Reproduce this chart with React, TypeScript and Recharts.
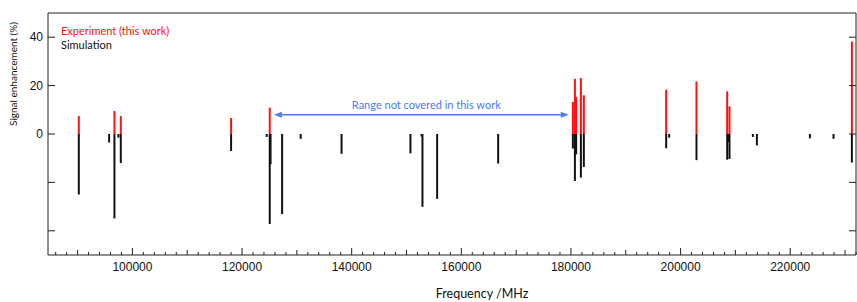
import { ComposedChart, XAxis, YAxis, ReferenceLine, Legend } from 'recharts';

// experiment (red sticks, positive)
const expFreq = [90220, 96720, 97880, 118000, 125050, 180350, 180720, 180950, 181810, 182350, 197370, 202900, 208500, 208920, 231250];
const expSignal = [7.4, 9.5, 7.4, 6.6, 10.9, 13.2, 22.8, 15.3, 23.1, 16.0, 18.3, 21.7, 17.6, 11.4, 38.2];

// simulation (black sticks, drawn downward)
const simFreq = [
  90220, 95750, 96720, 97450, 97880, 118000, 124500, 125050, 125200, 127310, 130700, 138150, 150720, 152750, 152910,
  155590, 166720, 180350, 180720, 180950, 181810, 182350, 197370, 197920, 202900, 208500, 208700, 208920, 213190,
  213920, 223590, 227900, 231250,
];
const simSignal = [
  -25.0, -3.5, -34.9, -1.5, -12.0, -7.0, -1.2, -37.2, -12.5, -33.1, -2.0, -8.2, -8.0, -1.0, -30.1,
  -26.8, -12.2, -6.0, -19.4, -8.4, -18.0, -13.6, -5.9, -1.5, -10.8, -10.6, -3.3, -10.3, -1.2,
  -4.7, -1.8, -2.0, -11.8,
];

const xMajor = [100000, 120000, 140000, 160000, 180000, 200000, 220000];
const yTicks = [-40, -20, 0, 20, 40];
const yLabelled = [0, 20, 40];
const gapStart = 125800;
const gapEnd = 179600;
const gapLevel = 8;

const xTicks: number[] = [];
for (let f = 86000; f <= 232000; f += 2000) xTicks.push(f);

const sticks = simFreq.map((f, i) => ({ freq: f, sim: simSignal[i] }));

const AXIS = '#222';
const RED = '#ff1010';
const BLUE = '#4a7bff';
const SANS = 'Lato, "Open Sans", sans-serif';
const NUM = '"Liberation Sans", Arial, sans-serif';

function tickLen(v: number) {
  if (xMajor.includes(v)) return 7;
  if (v % 10000 === 0) return 5;
  return 3;
}

function BottomTick(props: any) {
  const { x, y, payload } = props;
  const v = payload.value;
  return (
    <g>
      <line x1={x} x2={x} y1={y} y2={y - tickLen(v)} stroke={AXIS} />
      {xMajor.includes(v) && (
        <text x={x} y={y + 16} textAnchor="middle" fontSize={12} fontFamily={NUM} fill="#111">
          {v}
        </text>
      )}
    </g>
  );
}

function TopTick(props: any) {
  const { x, y, payload } = props;
  return <line x1={x} x2={x} y1={y} y2={y + tickLen(payload.value)} stroke={AXIS} />;
}

function LeftTick(props: any) {
  const { x, y, payload } = props;
  const v = payload.value;
  return (
    <g>
      <line x1={x} x2={x + 7} y1={y} y2={y} stroke={AXIS} />
      {yLabelled.includes(v) && (
        <text x={x - 5} y={y + 4} textAnchor="end" fontSize={12} fontFamily={NUM} fill="#111">
          {v}
        </text>
      )}
    </g>
  );
}

function RightTick(props: any) {
  const { x, y } = props;
  return <line x1={x} x2={x - 7} y1={y} y2={y} stroke={AXIS} />;
}

function GapArrow(props: any) {
  const { x1, y1, x2 } = props;
  const h = 8;
  return (
    <g>
      <line x1={x1 + h} x2={x2 - h} y1={y1} y2={y1} stroke={BLUE} strokeWidth={1.5} />
      <polygon points={`${x1},${y1} ${x1 + h},${y1 - 3} ${x1 + h},${y1 + 3}`} fill={BLUE} />
      <polygon points={`${x2},${y1} ${x2 - h},${y1 - 3} ${x2 - h},${y1 + 3}`} fill={BLUE} />
      <text x={(x1 + x2) / 2 + 5} y={y1 - 6} textAnchor="middle" fontSize={11} fontFamily={SANS} fill={BLUE}>
        Range not covered in this work
      </text>
    </g>
  );
}

function LegendBox() {
  return (
    <div style={{ fontFamily: SANS, fontSize: 11, lineHeight: '14px', whiteSpace: 'nowrap' }}>
      <div style={{ color: RED }}>Experiment (this work)</div>
      <div style={{ color: '#111' }}>Simulation</div>
    </div>
  );
}

export default function App() {
  return (
    <div style={{ position: 'absolute', left: 0, top: 0, background: '#fff' }}>
      <ComposedChart width={857} height={302} data={sticks} margin={{ top: 12, right: 0, bottom: 0, left: 0 }}>
        <XAxis
          dataKey="freq"
          type="number"
          domain={[84600, 232000]}
          ticks={xTicks}
          interval={0}
          height={47}
          tickSize={0}
          tickMargin={0}
          tickLine={false}
          tick={<BottomTick />}
          axisLine={{ stroke: AXIS }}
          allowDataOverflow
          label={{
            value: 'Frequency /MHz',
            position: 'insideBottom',
            offset: 4,
            dx: 30,
            fontSize: 12.5,
            fontFamily: SANS,
            fill: '#111',
          }}
        />
        <XAxis
          xAxisId="top"
          orientation="top"
          type="number"
          domain={[84600, 232000]}
          ticks={xTicks}
          interval={0}
          height={1}
          tickSize={0}
          tickMargin={0}
          tickLine={false}
          tick={<TopTick />}
          axisLine={{ stroke: AXIS }}
          allowDataOverflow
        />
        <YAxis
          type="number"
          domain={[-50, 50]}
          ticks={yTicks}
          interval={0}
          width={48}
          tickSize={0}
          tickMargin={0}
          tickLine={false}
          tick={<LeftTick />}
          axisLine={{ stroke: AXIS }}
          allowDataOverflow
          label={{
            content: (p: any) => {
              const vb = p.viewBox || { x: 0, y: 13 };
              const cx = vb.x + 13;
              const cy = vb.y + 61;
              return (
                <text
                  x={cx}
                  y={cy}
                  transform={`rotate(-90 ${cx} ${cy})`}
                  textAnchor="middle"
                  dominantBaseline="central"
                  fontSize={10}
                  fontFamily={SANS}
                  fill="#111"
                >
                  Signal enhancement (%)
                </text>
              );
            },
          }}
        />
        <YAxis
          yAxisId="right"
          orientation="right"
          type="number"
          domain={[-50, 50]}
          ticks={yTicks}
          interval={0}
          width={1}
          tickSize={0}
          tickMargin={0}
          tickLine={false}
          tick={<RightTick />}
          axisLine={{ stroke: AXIS }}
          allowDataOverflow
        />
        {simFreq.map((f, i) => (
          <ReferenceLine
            key={`s${i}`}
            segment={[{ x: f, y: 0 }, { x: f, y: simSignal[i] }]}
            stroke="#111"
            strokeWidth={2}
          />
        ))}
        {expFreq.map((f, i) => (
          <ReferenceLine
            key={`e${i}`}
            segment={[{ x: f, y: 0 }, { x: f, y: expSignal[i] }]}
            stroke={RED}
            strokeWidth={2}
          />
        ))}
        <ReferenceLine
          segment={[{ x: gapStart, y: gapLevel }, { x: gapEnd, y: gapLevel }]}
          shape={<GapArrow />}
        />
        <Legend
          layout="vertical"
          align="center"
          verticalAlign="middle"
          content={<LegendBox />}
          wrapperStyle={{ left: 61, top: 24, width: 'auto' }}
        />
      </ComposedChart>
    </div>
  );
}
